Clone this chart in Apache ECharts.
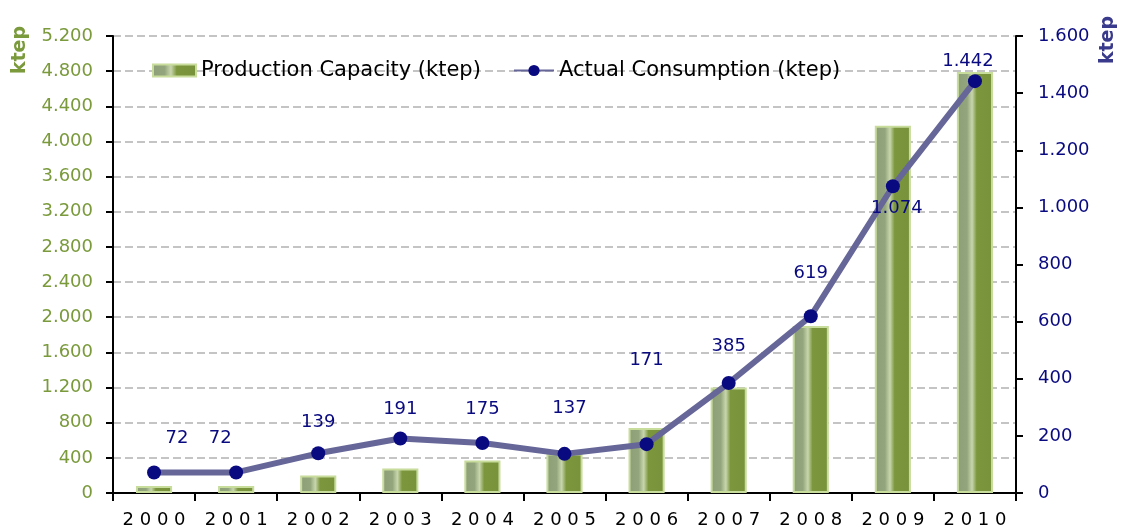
<!DOCTYPE html>
<html>
<head>
<meta charset="utf-8">
<script src="https://cdn.jsdelivr.net/npm/echarts@6/dist/echarts.min.js"></script>
<style>
  html, body { margin: 0; padding: 0; background: #fff; }
  #chart { width: 1123px; height: 531px; }
</style>
</head>
<body>
<div id="chart"></div>
<script>
const years = ['2000', '2001', '2002', '2003', '2004', '2005', '2006', '2007', '2008', '2009', '2010']
const capacity = [80, 80, 200, 280, 370, 450, 740, 1200, 1900, 4180, 4790]
const consumption = [72, 72, 139, 191, 175, 137, 171, 385, 619, 1074, 1442]

// label nudges so the value texts sit where they do in the original
const labelOffsets = [[23, -13], [-16, -13], [0, -10], [0, -8], [0, -13], [5, -25], [0, -63], [0, -16], [0, -22], [4, 43], [-7, 1]]

const fontFamily = 'DejaVu Sans'
const green = '#7a9a3c'
const navy = '#0a0a80'

function fmt(v) {
  return String(v).replace(/\B(?=(\d{3})+(?!\d))/g, '.')
}

const chart = echarts.init(document.getElementById('chart'))

const barColor = {
  type: 'linear', x: 0, y: 0, x2: 1, y2: 0,
  colorStops: [
    { offset: 0, color: '#8c9f78' },
    { offset: 0.28, color: '#93a57c' },
    { offset: 0.42, color: '#c9d6ad' },
    { offset: 0.55, color: '#7b963d' },
    { offset: 1, color: '#77923a' }
  ]
}

const legendText = { color: '#000', fontSize: 21, fontFamily: fontFamily }

const option = {
  backgroundColor: '#fff',
  animation: false,
  grid: { left: 113, right: 107, top: 36, bottom: 38, outerBoundsMode: 'none', containLabel: false },
  graphic: [
    {
      type: 'text',
      x: 20,
      y: 50,
      rotation: Math.PI / 2,
      style: { text: 'ktep', fill: green, font: 'bold 19px "DejaVu Sans"', align: 'center', verticalAlign: 'middle' }
    },
    {
      type: 'text',
      x: 1108,
      y: 40,
      rotation: Math.PI / 2,
      style: { text: 'ktep', fill: '#3a3a8c', font: 'bold 19px "DejaVu Sans"', align: 'center', verticalAlign: 'middle' }
    }
  ],
  legend: [
    {
      left: 147,
      top: 55,
      itemWidth: 43,
      itemHeight: 12,
      textStyle: legendText,
      data: [{ name: 'Production Capacity (ktep)', icon: 'rect' }]
    },
    {
      left: 508,
      top: 55,
      itemWidth: 40,
      itemHeight: 14,
      textStyle: legendText,
      data: [{ name: 'Actual Consumption (ktep)' }]
    }
  ],
  xAxis: {
    type: 'category',
    data: years,
    boundaryGap: true,
    axisLine: { lineStyle: { color: '#000', width: 2 } },
    axisTick: { show: true, length: 8, lineStyle: { color: '#000', width: 2 } },
    axisLabel: {
      color: '#000',
      fontSize: 18,
      fontFamily: fontFamily,
      margin: 18,
      formatter: v => v.split('').join(' ')
    }
  },
  yAxis: [
    {
      type: 'value',
      min: 0,
      max: 5200,
      interval: 400,
      axisLine: { show: true, lineStyle: { color: '#000', width: 2 } },
      axisTick: { show: true, length: 7, lineStyle: { color: '#000', width: 2 } },
      axisLabel: { color: green, fontSize: 18, fontFamily: fontFamily, margin: 20, formatter: fmt },
      splitLine: { show: true, lineStyle: { color: '#c4c4c4', type: [8, 4], width: 2 } }
    },
    {
      type: 'value',
      min: 0,
      max: 1600,
      interval: 200,
      axisLine: { show: true, lineStyle: { color: '#000', width: 2 } },
      axisTick: { show: true, length: 7, lineStyle: { color: '#000', width: 2 } },
      axisLabel: { color: navy, fontSize: 18, fontFamily: fontFamily, margin: 22, formatter: fmt },
      splitLine: { show: false }
    }
  ],
  series: [
    {
      name: 'Production Capacity (ktep)',
      type: 'bar',
      yAxisIndex: 0,
      data: capacity,
      barWidth: '44%',
      itemStyle: {
        color: barColor,
        borderColor: '#c8dc9c',
        borderWidth: 2
      }
    },
    {
      name: 'Actual Consumption (ktep)',
      type: 'line',
      yAxisIndex: 1,
      data: consumption.map((v, i) => ({
        value: v,
        label: { offset: labelOffsets[i] }
      })),
      symbol: 'circle',
      symbolSize: 14,
      lineStyle: { color: '#666699', width: 6 },
      itemStyle: { color: navy },
      label: {
        show: true,
        position: 'top',
        color: navy,
        fontSize: 18,
        fontFamily: fontFamily,
        formatter: p => fmt(p.value)
      },
      z: 5
    }
  ]
}

chart.setOption(option)
</script>
</body>
</html>
